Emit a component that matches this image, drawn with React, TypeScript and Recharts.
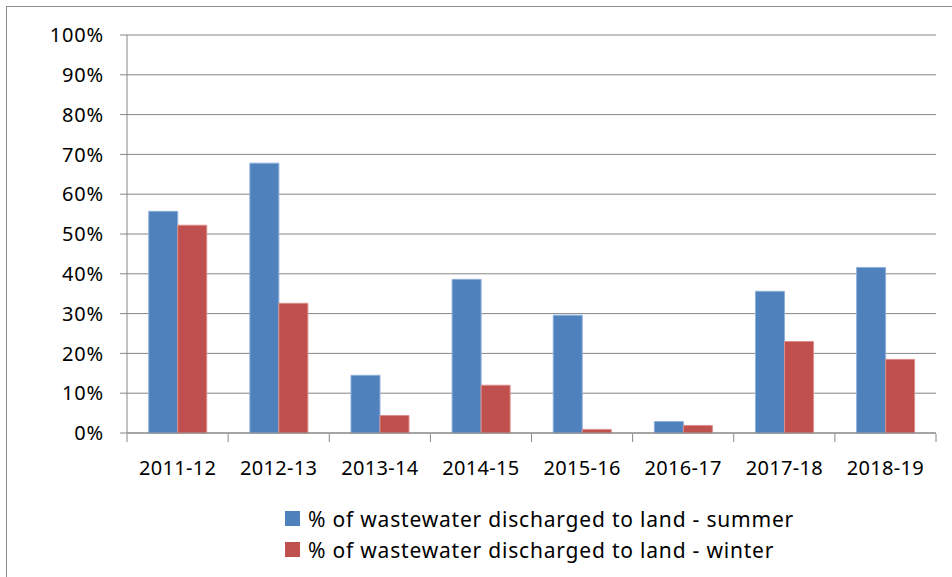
import React from "react";
import { BarChart, Bar, XAxis, YAxis, CartesianGrid, Legend } from "recharts";

const categories = ["2011-12", "2012-13", "2013-14", "2014-15", "2015-16", "2016-17", "2017-18", "2018-19"];
const summer = [55.7, 67.8, 14.5, 38.6, 29.6, 2.9, 35.6, 41.6];
const winter = [52.2, 32.6, 4.4, 12.0, 0.9, 1.9, 23.0, 18.5];
const yTicks = [0, 10, 20, 30, 40, 50, 60, 70, 80, 90, 100];
const seriesNames = [
  "% of wastewater discharged to land - summer",
  "% of wastewater discharged to land - winter",
];

const data = categories.map((c, i) => ({ cat: c, summer: summer[i], winter: winter[i] }));

const FONT = "'Noto Sans', 'Open Sans', sans-serif";
const GRID = "#868686";

const XTick = (props: any) => {
  const { x, y, payload, index, width, visibleTicksCount } = props;
  const n = visibleTicksCount || categories.length;
  const half = width / n / 2;
  return (
    <g>
      <line x1={x - half} y1={y - 7} x2={x - half} y2={y + 1} stroke={GRID} strokeWidth={1} />
      {index === n - 1 && (
        <line x1={x + half} y1={y - 7} x2={x + half} y2={y + 1} stroke={GRID} strokeWidth={1} />
      )}
      <text
        x={x}
        y={y + 34}
        textAnchor="middle"
        fill="#000"
        fontSize={20}
        letterSpacing={0.3}
        fontFamily={FONT}
      >
        {payload.value}
      </text>
    </g>
  );
};

const LegendContent = (props: any) => {
  const { payload } = props;
  return (
    <div style={{ fontFamily: FONT, fontSize: 21, letterSpacing: 0.8, color: "#000", textAlign: "left" }}>
      {payload.map((p: any, i: number) => (
        <div key={i} style={{ display: "flex", alignItems: "center", height: 31 }}>
          <span style={{ display: "inline-block", width: 15, height: 15, background: p.color, marginRight: 8 }} />
          <span>{p.value}</span>
        </div>
      ))}
    </div>
  );
};

export default function App() {
  return (
    <div style={{ position: "absolute", left: 0, top: 0, width: 952, height: 577, background: "#fff", overflow: "hidden" }}>
      <div
        style={{
          position: "absolute",
          left: 6,
          top: 6,
          width: 960,
          height: 600,
          borderLeft: "1px solid #8c8c8c",
          borderTop: "1px solid #8c8c8c",
        }}
      />
      <div style={{ position: "absolute", left: 0, top: 0 }}>
        <BarChart
          width={952}
          height={577}
          data={data}
          margin={{ top: 35, right: 16, left: 0, bottom: 0 }}
          barCategoryGap="21.5%"
          barGap={0}
        >
          <CartesianGrid horizontal vertical={false} stroke={GRID} strokeWidth={1} />
          <XAxis
            dataKey="cat"
            height={144}
            axisLine={{ stroke: GRID }}
            tickLine={false}
            tick={<XTick />}
            interval={0}
          />
          <YAxis
            width={127}
            domain={[0, 100]}
            ticks={yTicks}
            interval={0}
            tickFormatter={(v: number) => `${v}%`}
            axisLine={{ stroke: GRID }}
            tickLine={{ stroke: GRID }}
            tickSize={7}
            tickMargin={16}
            tick={{ fill: "#000", fontSize: 20, fontFamily: FONT, letterSpacing: 0.8 }}
          />
          <Legend
            layout="horizontal"
            verticalAlign="middle"
            align="center"
            content={<LegendContent />}
            wrapperStyle={{ position: "absolute", left: 285, top: 503, width: 620 }}
          />
          <Bar
            dataKey="summer"
            name={seriesNames[0]}
            fill="#4F81BD"
            stroke="#8fb0dc"
            strokeWidth={1}
            isAnimationActive={false}
          />
          <Bar
            dataKey="winter"
            name={seriesNames[1]}
            fill="#C0504D"
            stroke="#dc8e8c"
            strokeWidth={1}
            isAnimationActive={false}
          />
        </BarChart>
      </div>
    </div>
  );
}
